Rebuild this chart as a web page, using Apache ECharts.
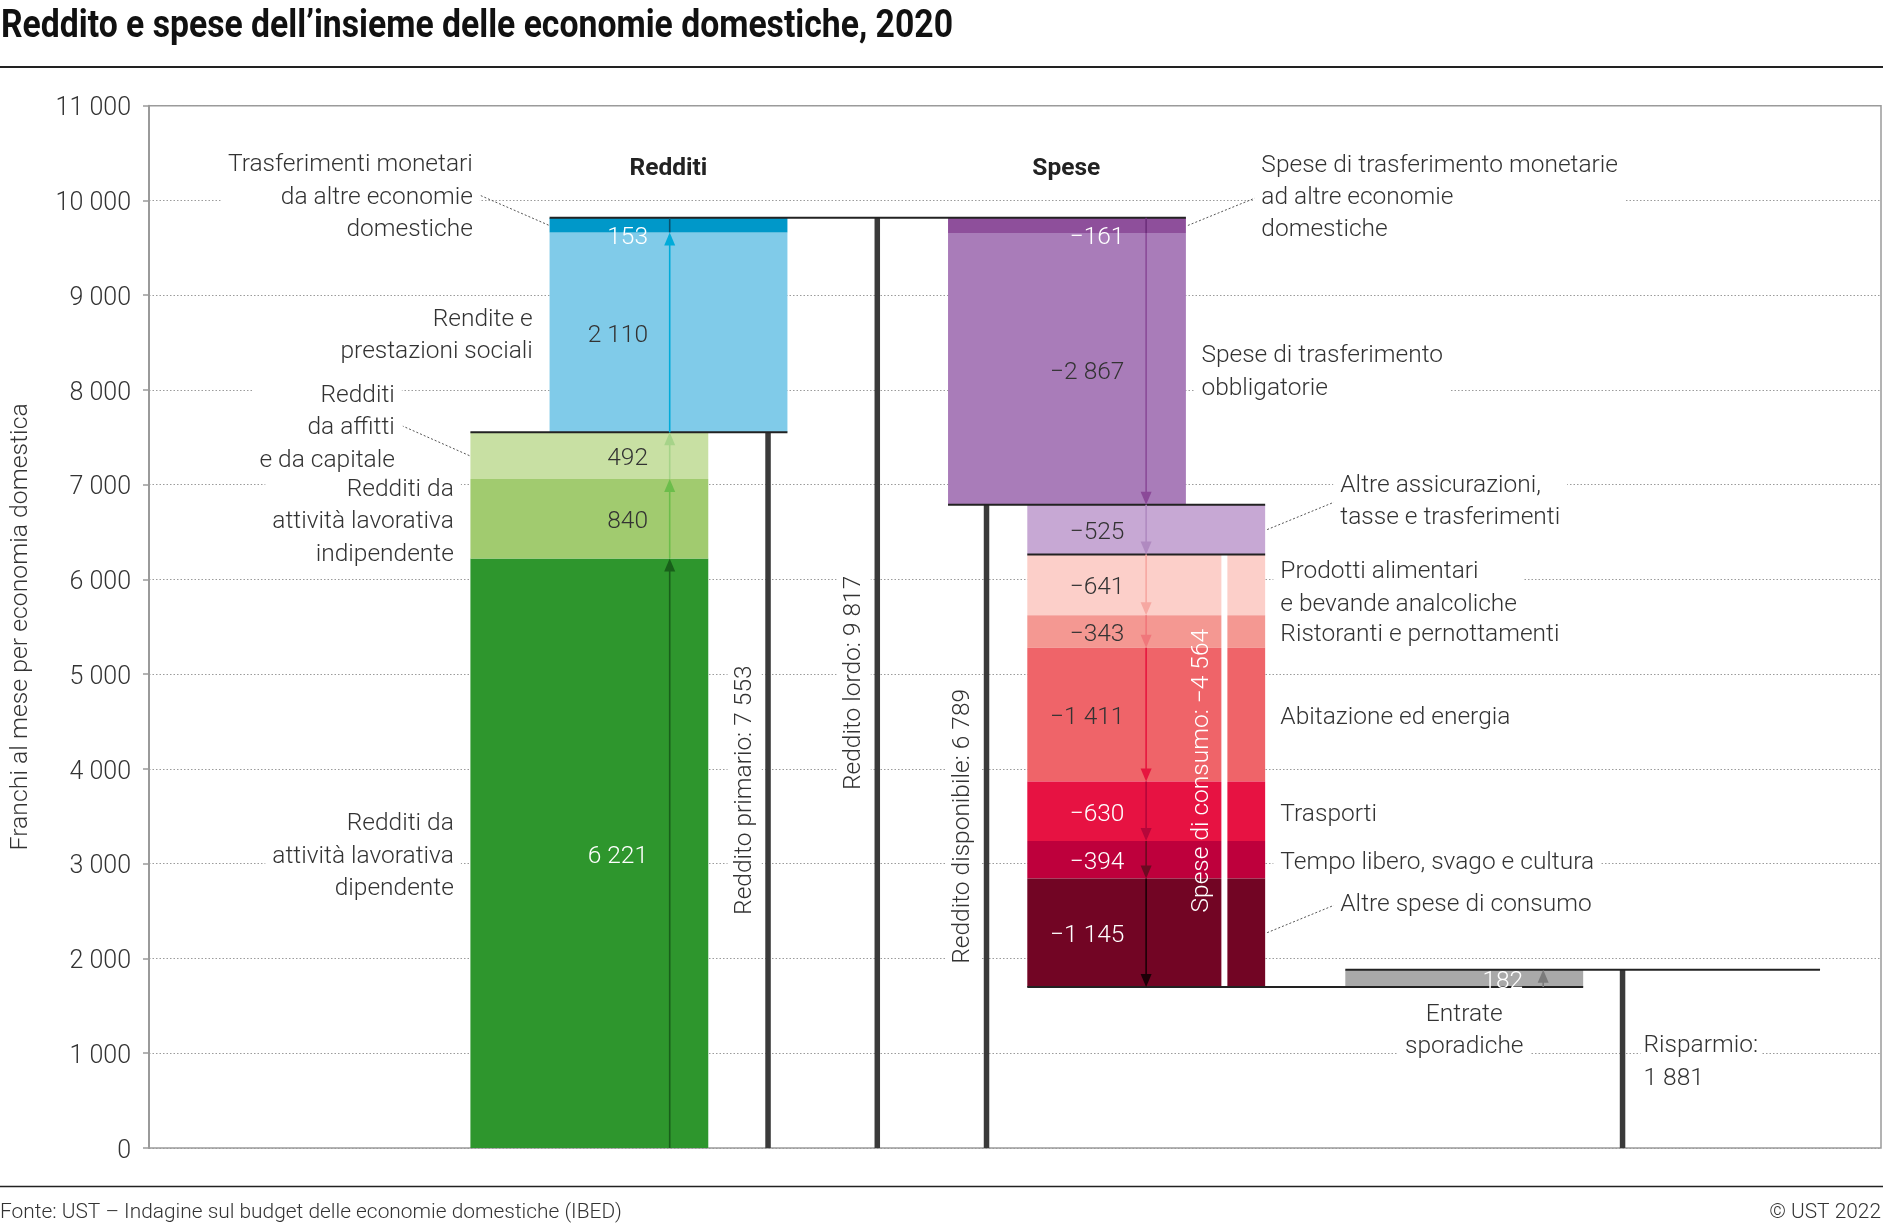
<!DOCTYPE html>
<html lang="it"><head><meta charset="utf-8">
<title>Reddito e spese dell’insieme delle economie domestiche, 2020</title>
<script src="https://cdn.jsdelivr.net/npm/echarts@6/dist/echarts.min.js"></script>
<style>html,body{margin:0;padding:0;background:#fff;overflow:hidden}#chart{width:1883px;height:1223px}</style>
</head><body><div id="chart"></div>
<script>
// ================= DATA =================
const incomeCategories = ['Redditi da\nattività lavorativa\ndipendente', 'Redditi da\nattività lavorativa\nindipendente', 'Redditi\nda affitti\ne da capitale', 'Rendite e\nprestazioni sociali', 'Trasferimenti monetari\nda altre economie\ndomestiche'];
const incomeValues = [6221, 840, 492, 2110, 153];
const expenseCategories = ['Spese di trasferimento monetarie\nad altre economie\ndomestiche', 'Spese di trasferimento\nobbligatorie', 'Altre assicurazioni,\ntasse e trasferimenti', 'Prodotti alimentari\ne bevande analcoliche', 'Ristoranti e pernottamenti', 'Abitazione ed energia', 'Trasporti', 'Tempo libero, svago e cultura', 'Altre spese di consumo'];
const expenseValues = [-161, -2867, -525, -641, -343, -1411, -630, -394, -1145];
const sporadicCategory = 'Entrate\nsporadiche';
const sporadicValue = 182;
const totalCategories = ['Reddito primario', 'Reddito lordo', 'Reddito disponibile', 'Spese di consumo', 'Risparmio'];
const totalValues = [7553, 9817, 6789, -4564, 1881];
const groupHeaders = ['Redditi', 'Spese'];
const yTicks = [0, 1000, 2000, 3000, 4000, 5000, 6000, 7000, 8000, 9000, 10000, 11000];
const yTickLabels = ['0', '1 000', '2 000', '3 000', '4 000', '5 000', '6 000', '7 000', '8 000', '9 000', '10 000', '11 000'];
const titleText = 'Reddito e spese dell’insieme delle economie domestiche, 2020';
const yAxisTitle = 'Franchi al mese per economia domestica';
const sourceText = 'Fonte: UST – Indagine sul budget delle economie domestiche (IBED)';
const copyrightText = '© UST 2022';

// ================= STYLES =================
const incomeFill = ['#2e962d', '#a1cb6f', '#c8e0a3', '#80cbe9', '#0098c9'];
const incomeArrow = ['#185f1a', '#6cbd4b', '#a6d389', '#00abd9', '#0b4f6b'];
const incomeText = ['#fff', '#333', '#333', '#333', '#fff'];
const expenseFill = ['#8e4f9b', '#a97cb9', '#c7a8d4', '#fccfc9', '#f49892', '#ef6469', '#e71242', '#be003c', '#720524'];
const expenseArrow = ['#6d2f7b', '#8b4a98', '#b08ac0', '#f6a8a2', '#f0777b', '#e6163f', '#b5073a', '#6c0a22', '#1c0007'];
const expenseText = ['#fff', '#333', '#333', '#333', '#333', '#333', '#fff', '#fff', '#fff'];
const sporadicFill = '#a9a9a9', sporadicArrow = '#7b7b7b';
const FONT = 'Roboto';
const FS = 24.5, LH = 32.4, TDY = 3.5, TICK_FS = 25;

// ================= LAYOUT (x in axis units = px from plot left) =================
const W = 1883, H = 1223;
const GRID = {left: 148, right: 2, top: 105.7, bottom: 75};
const XMAX = W - GRID.left - GRID.right;
const COLW = 238;
const colLeft = {A: 321.6, B: 400.8, C: 799.5, D: 878.8, E: 1197};
const incomeCol = ['A', 'A', 'A', 'B', 'B'];
const expenseCol = ['C', 'C', 'D', 'D', 'D', 'D', 'D', 'D', 'D'];
const totalLineX = [619.4, 728.7, 838, 1076, 1474.4];
const savingLineRight = 1672;
const arrowX = {A: 521, B: 521, C: 997.7, D: 997.7, E: 1395};
const valueLabelX = {A: 499.3, B: 499.3, C: 976, D: 976, E: 1375};
const tickLabelX = -18;
const consumoLabelX = 1052;
const headerPos = [[519.7, 10367], [917.8, 10367]];
const incomeAnno = [
  {side: 'L', x: 305, dy: 0}, {side: 'L', x: 305, dy: 0}, {side: 'L', x: 246, dy: -31, leader: true},
  {side: 'L', x: 384, dy: 0}, {side: 'L', x: 324, dy: -31, leader: true}];
const expenseAnno = [
  {side: 'R', x: 1113, dy: -31, leader: true}, {side: 'R', x: 1053, dy: 0}, {side: 'R', x: 1192, dy: -31, leader: true},
  {side: 'R', x: 1132, dy: 0}, {side: 'R', x: 1132, dy: 0}, {side: 'R', x: 1132, dy: 0},
  {side: 'R', x: 1132, dy: 0}, {side: 'R', x: 1132, dy: 0}, {side: 'R', x: 1192, dy: -31, leader: true}];
const PADX = 7;

// ================= HELPERS =================
function fmt(v) {
  const s = String(Math.abs(v)).replace(/\B(?=(\d{3})+(?!\d))/g, ' ');
  return (v < 0 ? '\u2212' : '') + s;
}
// x,y = anchor of the text itself (background padding is compensated)
function txt(x, y, text, o) {
  o = o || {};
  const align = o.align || 'left';
  const st = {text: text, fill: o.fill || '#333', fontFamily: FONT, fontSize: o.size || FS, fontWeight: o.weight || 300,
    align: align, verticalAlign: 'middle', lineHeight: o.lh || LH};
  let px = x, py = y;
  if (o.bg) {
    st.backgroundColor = o.bg; st.padding = o.pad || [2, PADX];
    const ph = st.padding[1];
    if (!o.rot) { if (align === 'left') px -= ph; else if (align === 'right') px += ph; }
  }
  if (!o.rot) py += TDY; else px += 1.5;
  return {type: 'text', x: px, y: py, rotation: o.rot || 0, style: st};
}

// ================= SEGMENTS =================
const segs = [];
let acc = 0;
incomeValues.forEach((v, i) => {
  segs.push({col: incomeCol[i], y0: acc, y1: acc + v, v: v, fill: incomeFill[i], arrow: incomeArrow[i], tc: incomeText[i], anno: incomeAnno[i], name: incomeCategories[i]});
  acc += v;
});
acc = totalValues[1];
expenseValues.forEach((v, i) => {
  segs.push({col: expenseCol[i], y0: acc, y1: acc + v, v: v, fill: expenseFill[i], arrow: expenseArrow[i], tc: expenseText[i], anno: expenseAnno[i], name: expenseCategories[i]});
  acc += v;
});
const consStart = segs[incomeValues.length + 3].y0;
const consEnd = acc;
segs.push({col: 'E', y0: acc, y1: acc + sporadicValue, v: sporadicValue, fill: sporadicFill, arrow: sporadicArrow, tc: '#fff', anno: null, name: sporadicCategory});
const segData = segs.map((s, i) => [i]);

function renderBar(params, api) {
  const s = segs[params.dataIndex];
  const L = colLeft[s.col];
  const a = api.coord([L, Math.max(s.y0, s.y1)]);
  const b = api.coord([L + COLW, Math.min(s.y0, s.y1)]);
  return {type: 'rect', shape: {x: a[0], y: a[1], width: b[0] - a[0], height: b[1] - a[1]}, style: {fill: s.fill}};
}
function renderArrow(params, api) {
  const s = segs[params.dataIndex];
  const x = arrowX[s.col];
  const p0 = api.coord([x, s.y0]), p1 = api.coord([x, s.y1]);
  const dir = p1[1] < p0[1] ? -1 : 1;
  const head = Math.abs(s.v) > 170;
  const ch = [{type: 'line', shape: {x1: p0[0], y1: p0[1], x2: p1[0], y2: p1[1] - dir * (head ? 8 : 0)}, style: {stroke: s.arrow, lineWidth: 1.6}}];
  if (head) ch.push({type: 'polygon', shape: {points: [[p1[0], p1[1]], [p1[0] - 5.5, p1[1] - dir * 13], [p1[0] + 5.5, p1[1] - dir * 13]]}, style: {fill: s.arrow}});
  return {type: 'group', children: ch};
}
function renderSegLabel(params, api) {
  const s = segs[params.dataIndex];
  const lo = Math.min(s.y0, s.y1), hi = Math.max(s.y0, s.y1), mid = (lo + hi) / 2;
  const small = Math.abs(s.v) < 200 && s.col !== 'E';
  const yLab = small ? api.coord([0, lo])[1] + 1.5 : api.coord([0, mid])[1];
  const xLab = api.coord([valueLabelX[s.col], 0])[0];
  const ch = [];
  if (s.anno) {
    const a = s.anno;
    const yc = api.coord([0, mid])[1];
    const ax = api.coord([a.x, 0])[0];
    if (a.leader) {
      const edge = a.side === 'L' ? colLeft[s.col] : colLeft[s.col] + COLW;
      const ex = api.coord([edge, 0])[0] + (a.side === 'L' ? -1 : 2);
      const lx = ax + (a.side === 'L' ? 8 : -6);
      ch.push({type: 'line', shape: {x1: ex, y1: yc, x2: lx, y2: yc + a.dy + TDY - (a.side === 'L' ? 2 : 0)}, style: {stroke: '#555', lineWidth: 1, lineDash: [2, 2]}});
    }
    ch.push(txt(ax, yc + a.dy, s.name, {align: a.side === 'L' ? 'right' : 'left', bg: '#fff', pad: [2, PADX]}));
  }
  ch.push(txt(xLab, yLab, fmt(s.v), {align: 'right', fill: s.tc}));
  return {type: 'group', children: ch};
}
function renderStructure(params, api) {
  const c = (x, y) => api.coord([x, y]);
  const ch = [];
  const vline = (x, v0, v1, w, fill) => {
    const a = c(x, v1), b = c(x, v0);
    ch.push({type: 'rect', shape: {x: a[0] - w / 2, y: Math.min(a[1], b[1]), width: w, height: Math.abs(b[1] - a[1])}, style: {fill: fill}});
  };
  const hline = (x0, x1, v) => {
    const a = c(x0, v), b = c(x1, v);
    ch.push({type: 'line', shape: {x1: a[0], y1: a[1], x2: b[0], y2: b[1]}, style: {stroke: '#222', lineWidth: 2}});
  };
  vline(totalLineX[0], 0, totalValues[0], 5.5, '#3a3a3a');
  vline(totalLineX[1], 0, totalValues[1], 5.5, '#3a3a3a');
  vline(totalLineX[2], 0, totalValues[2], 5.5, '#3a3a3a');
  vline(totalLineX[3], consEnd, consStart, 6, '#ffffff');
  vline(totalLineX[4], 0, totalValues[4], 5.5, '#3a3a3a');
  hline(colLeft.A, colLeft.B + COLW, totalValues[0]);
  hline(colLeft.B, colLeft.C + COLW, totalValues[1]);
  hline(colLeft.C, colLeft.D + COLW, totalValues[2]);
  hline(colLeft.D, colLeft.D + COLW, consStart);
  hline(colLeft.D, colLeft.E + COLW, consEnd);
  hline(colLeft.E, savingLineRight, consEnd + sporadicValue);
  return {type: 'group', children: ch};
}
function renderTexts(params, api) {
  const c = (x, y) => api.coord([x, y]);
  const ch = [];
  yTicks.forEach((v, i) => {
    const p = c(tickLabelX, v);
    ch.push(txt(p[0], p[1], yTickLabels[i], {align: 'right', size: TICK_FS}));
  });
  for (let i = 0; i < 3; i++) {
    ch.push(txt(c(totalLineX[i], 0)[0] - 25, c(0, totalValues[i] / 2)[1], totalCategories[i] + ': ' + fmt(totalValues[i]),
      {rot: Math.PI / 2, align: 'center', bg: '#fff', pad: [3, 6], lh: 28}));
  }
  ch.push(txt(c(consumoLabelX, 0)[0], c(0, (consStart + consEnd) / 2)[1], totalCategories[3] + ': ' + fmt(totalValues[3]),
    {rot: Math.PI / 2, align: 'center', fill: '#fff', lh: 28}));
  ch.push(txt(c(totalLineX[4], 0)[0] + 21, c(0, totalValues[4] / 2)[1], totalCategories[4] + ':\n' + fmt(totalValues[4]),
    {align: 'left', bg: '#fff', pad: [0, 3]}));
  ch.push(txt(c(colLeft.E + COLW / 2, 0)[0], c(0, consEnd)[1] + 40.5, sporadicCategory, {align: 'center', bg: '#fff', pad: [0, 7]}));
  groupHeaders.forEach((h, i) => {
    const p = c(headerPos[i][0], headerPos[i][1]);
    ch.push(txt(p[0], p[1], h, {align: 'center', weight: 'bold', fill: '#222'}));
  });
  return {type: 'group', children: ch};
}

// title scale to match condensed look
const ctx = document.createElement('canvas').getContext('2d');
ctx.font = 'bold 38px Roboto';
const titleScale = 952 / ctx.measureText(titleText).width;

const chart = echarts.init(document.getElementById('chart'), null, {renderer: 'canvas'});
chart.setOption({
  animation: false,
  backgroundColor: '#fff',
  grid: {left: GRID.left, right: GRID.right, top: GRID.top, bottom: GRID.bottom, show: true, borderColor: '#9a9a9a', borderWidth: 1.5, backgroundColor: 'transparent'},
  xAxis: {type: 'value', min: 0, max: XMAX, show: false},
  yAxis: {
    type: 'value', min: 0, max: 11000, interval: 1000,
    axisLine: {show: true, lineStyle: {color: '#9a9a9a', width: 2}},
    axisTick: {show: true, length: 6, lineStyle: {color: '#9a9a9a', width: 1.5}},
    axisLabel: {show: false},
    splitLine: {show: true, lineStyle: {color: '#9b9b9b', type: [1.5, 2], width: 1.2}},
    name: yAxisTitle, nameLocation: 'middle', nameRotate: 90, nameGap: 116,
    nameTextStyle: {fontSize: 24.8, fontFamily: FONT, fontWeight: 300, color: '#333'}
  },
  graphic: [
    {type: 'text', x: 1, y: 27, scaleX: titleScale, style: {text: titleText, fontSize: 38, fontWeight: 'bold', fontFamily: FONT, fill: '#111', verticalAlign: 'middle'}},
    {type: 'line', shape: {x1: 0, y1: 67, x2: W, y2: 67}, style: {stroke: '#222', lineWidth: 2}},
    {type: 'line', shape: {x1: 0, y1: 1186.5, x2: W, y2: 1186.5}, style: {stroke: '#222', lineWidth: 1.5}},
    {type: 'text', x: 0, y: 1213, style: {text: sourceText, fontSize: 20.9, fontWeight: 300, fontFamily: FONT, fill: '#333', verticalAlign: 'middle'}},
    {type: 'text', x: 1881, y: 1213, style: {text: copyrightText, fontSize: 20.9, fontWeight: 300, fontFamily: FONT, fill: '#333', verticalAlign: 'middle', align: 'right'}}
  ],
  series: [
    {type: 'custom', name: 'bars', data: segData, renderItem: renderBar, clip: false, z: 2, silent: true},
    {type: 'custom', name: 'structure', data: [[0]], renderItem: renderStructure, clip: false, z: 3, silent: true},
    {type: 'custom', name: 'arrows', data: segData, renderItem: renderArrow, clip: false, z: 4, silent: true},
    {type: 'custom', name: 'labels', data: segData, renderItem: renderSegLabel, clip: false, z: 5, silent: true},
    {type: 'custom', name: 'texts', data: [[0]], renderItem: renderTexts, clip: false, z: 5, silent: true}
  ]
});
</script></body></html>
